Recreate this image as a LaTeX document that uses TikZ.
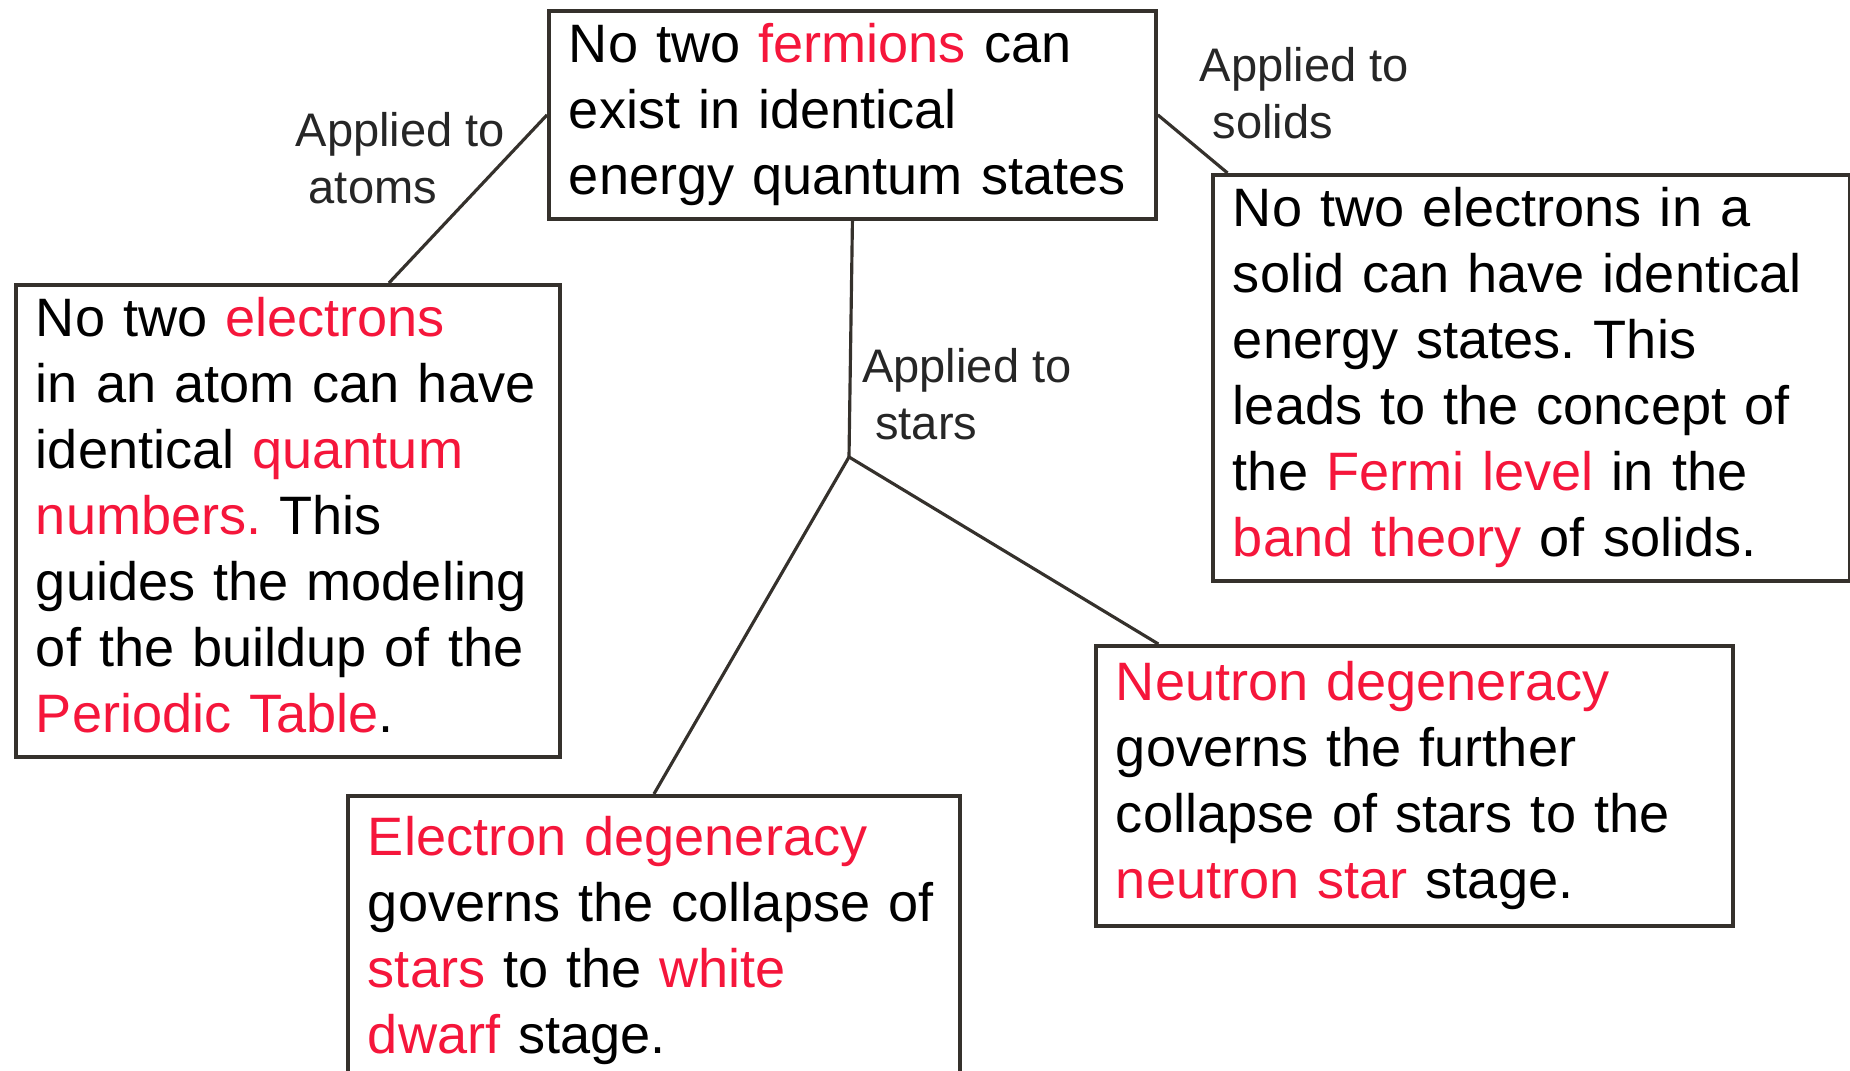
\documentclass[tikz,border=0pt]{standalone}
\usepackage{fontspec}
\setmainfont{Liberation Sans}
\definecolor{hpRed}{HTML}{F5163B}
\definecolor{hpLine}{HTML}{35312C}
\newcommand{\hot}[1]{\textcolor{hpRed}{#1}}
\frenchspacing

\begin{document}
\begin{tikzpicture}[
        every node/.style={font=\fontsize{15.4pt}{18.78pt}\selectfont},
        box/.style={draw=hpLine, line width=1.1pt, anchor=north west, align=left,
            inner xsep=0.2cm, inner ysep=0.05cm,
            execute at begin node=\strut, execute at end node=\strut},
        tag/.style={anchor=west, align=left, inner sep=0pt, text=black!85,
            font=\fontsize{13.4pt}{16.2pt}\selectfont},
        link/.style={draw=hpLine, line width=0.9pt}]
        \useasboundingbox (0,0) rectangle (18.5,10.71);

        % Principio geral.
        \node[box, text width=5.67cm] (fermi) at (5.47,10.62)
            {No two \hot{fermions} can\\exist in identical\\energy quantum states};

        % Atomos, solidos e estrelas.
        \node[box, text width=5.04cm] (atom) at (0.14,7.88)
            {No two \hot{electrons}\\in an atom can have\\identical \hot{quantum}\\
             \hot{numbers.} This\\guides the modeling\\of the buildup of the\\
             \hot{Periodic Table}.};
        \node[box, text width=5.97cm] (solid) at (12.11,8.98)
            {No two electrons in a\\solid can have identical\\energy states. This\\
             leads to the concept of\\the \hot{Fermi level} in the\\
             \hot{band theory} of solids.};
        \node[box, text width=5.72cm, minimum height=2.9cm] (white) at (3.46,2.77)
            {\hot{Electron degeneracy}\\governs the collapse of\\
             \hot{stars} to the \hot{white}\\\hot{dwarf} stage.};
        \node[box, text width=5.97cm, minimum height=2.8cm] (neutron) at (10.94,4.27)
            {\hot{Neutron degeneracy}\\governs the further\\
             collapse of stars to the\\\hot{neutron star} stage.};

        % Ligacoes.
        \coordinate (fork) at (8.49,6.14);
        \draw[link] (fermi.west) -- (atom.67);
        \draw[link] (fermi.east) -- (solid.146);
        \draw[link] (fermi.south) -- (fork);
        \draw[link] (fork) -- (white.north);
        \draw[link] (fork) -- (neutron.151);

        % Rotulos.
        \node[tag] (lblatom) at (2.95,9.13) {Applied to\\\hspace*{0.278em}atoms};
        \node[tag] (lblsolid) at (11.99,9.78) {Applied to\\\hspace*{0.278em}solids};
        \node[tag] (lblstar) at (8.615,6.77) {Applied to\\\hspace*{0.278em}stars};
    \end{tikzpicture}
\end{document}
